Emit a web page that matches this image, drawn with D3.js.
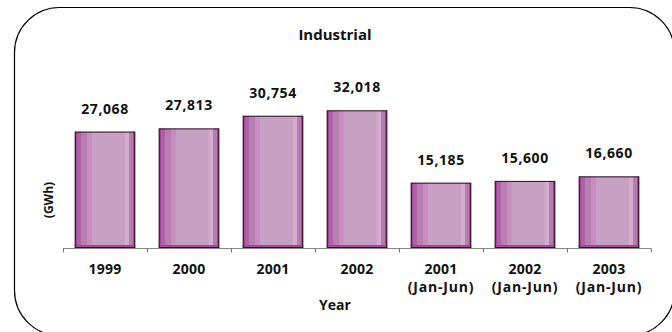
<!DOCTYPE html>
<html>
<head>
<meta charset="utf-8">
<script src="https://cdn.jsdelivr.net/npm/d3@7"></script>
<style>
  html, body { margin: 0; padding: 0; background: #fff; }
  svg { display: block; }
  text { font-family: "Open Sans", sans-serif; font-weight: bold; fill: #111; }
</style>
</head>
<body>
<svg id="chart" width="672" height="332"></svg>
<script>
const categories = ["1999", "2000", "2001", "2002", "2001\n(Jan-Jun)", "2002\n(Jan-Jun)", "2003\n(Jan-Jun)"];
const values = [27068, 27813, 30754, 32018, 15185, 15600, 16660];
const valueLabels = ["27,068", "27,813", "30,754", "32,018", "15,185", "15,600", "16,660"];
const title = "Industrial";
const xTitle = "Year";
const yTitle = "(GWh)";

const svg = d3.select("#chart");

// frame
svg.append("rect")
  .attr("x", 14.5).attr("y", 7.5)
  .attr("width", 660).attr("height", 328)
  .attr("rx", 45).attr("ry", 45)
  .attr("fill", "#fff").attr("stroke", "#000").attr("stroke-width", 1.2);

// gradient
const defs = svg.append("defs");
const grad = defs.append("linearGradient").attr("id", "barGrad")
  .attr("x1", "0%").attr("x2", "100%").attr("y1", "0%").attr("y2", "0%");
const stripes = [
  [0.00, 0.04, "#9c4394"],
  [0.04, 0.11, "#ad60a5"],
  [0.11, 0.20, "#b77fb0"],
  [0.20, 0.28, "#cb8cc5"],
  [0.28, 0.83, "#c8a0c4"],
  [0.83, 0.89, "#d3accf"],
  [0.89, 0.96, "#b87aaf"],
  [0.96, 1.00, "#9a4590"]
];
stripes.forEach(s => {
  grad.append("stop").attr("offset", s[0]).attr("stop-color", s[2]);
  grad.append("stop").attr("offset", s[1]).attr("stop-color", s[2]);
});

const x = d3.scaleBand().domain(categories).range([63, 651]).paddingInner(0.28).paddingOuter(0.14);
const y = d3.scaleLinear().domain([0, 35000]).range([248, 97.5]);

// axis
const axis = svg.append("g").attr("transform", "translate(0,248.5)");
axis.append("line").attr("x1", 63).attr("x2", 651).attr("stroke", "#888").attr("stroke-width", 1);
const step = x.step();
d3.range(categories.length + 1).forEach(i => {
  const tx = Math.round(63 + i * step) + 0.5;
  axis.append("line").attr("x1", tx).attr("x2", tx).attr("y1", 0).attr("y2", 4)
    .attr("stroke", "#777").attr("stroke-width", 1);
});

// bars
const bars = svg.append("g");
categories.forEach((c, i) => {
  const bx = x(c), bw = x.bandwidth(), by = y(values[i]);
  const bh = y(0) - by;
  bars.append("rect").attr("x", bx).attr("y", by).attr("width", bw).attr("height", bh)
    .attr("fill", "url(#barGrad)");
  bars.append("rect").attr("x", bx).attr("y", y(0) - 3).attr("width", bw).attr("height", 3)
    .attr("fill", "#a24a9a");
  bars.append("rect").attr("x", bx + 0.5).attr("y", by + 0.5).attr("width", bw - 1).attr("height", bh - 1)
    .attr("fill", "none").attr("stroke", "#2a1a28").attr("stroke-width", 1);
  svg.append("text").attr("x", bx + bw / 2).attr("y", by - 18)
    .attr("text-anchor", "middle").attr("font-size", 14).attr("letter-spacing", 0.6).text(valueLabels[i]);
});

// category labels
categories.forEach(c => {
  const lines = c.split("\n");
  lines.forEach((l, j) => {
    const t = svg.append("text").attr("text-anchor", "middle")
      .attr("x", x(c) + x.bandwidth() / 2)
      .text(l);
    if (j === 0) {
      t.attr("y", 274).attr("font-size", 14).attr("letter-spacing", 0.3);
    } else {
      t.attr("y", 291.5).attr("font-size", 14).attr("font-weight", "normal")
        .attr("font-family", "'DejaVu Sans', sans-serif").attr("letter-spacing", 0.8);
    }
  });
});

// titles
svg.append("text").attr("x", 335).attr("y", 40).attr("text-anchor", "middle").attr("font-size", 15).text(title);
svg.append("text").attr("x", 335).attr("y", 310).attr("text-anchor", "middle").attr("font-size", 14).text(xTitle);
svg.append("text").attr("transform", "translate(53,200) rotate(-90)").attr("text-anchor", "middle")
  .attr("font-size", 12).text(yTitle);
</script>
</body>
</html>
